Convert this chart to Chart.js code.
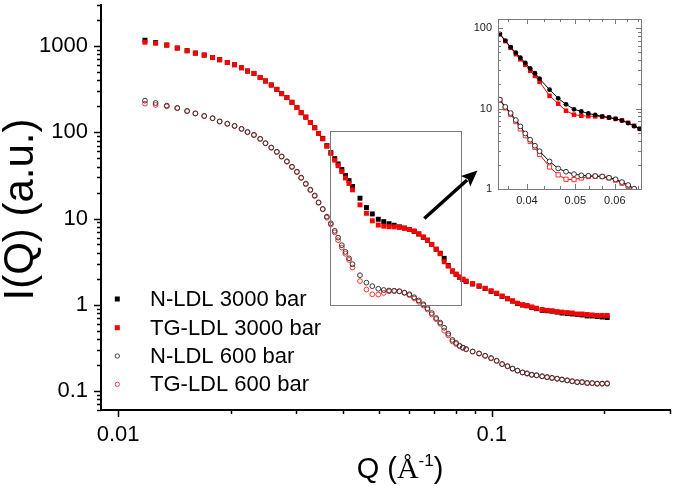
<!DOCTYPE html>
<html><head><meta charset="utf-8">
<script src="https://cdn.jsdelivr.net/npm/chart.js@4.4.1/dist/chart.umd.min.js"></script>
<style>
html,body{margin:0;padding:0;background:#fff;}
#wrap{position:relative;width:675px;height:486px;background:#fff;}
canvas{position:absolute;left:0;top:0;}
</style></head><body>
<div id="wrap"><canvas id="main" width="675" height="486"></canvas><canvas id="inset" width="675" height="486"></canvas></div>
<script>
// ---------- data ----------
const q = [
 0.0118, 0.0126, 0.0135, 0.0144, 0.0153, 0.0161, 0.0170, 0.0179, 0.0187, 0.0196,
 0.0205, 0.0214, 0.0222, 0.0231, 0.0240, 0.0248, 0.0257, 0.0266, 0.0274, 0.0283,
 0.0292, 0.0301, 0.0309, 0.0318, 0.0327, 0.0336, 0.0344, 0.0353, 0.0362, 0.0371,
 0.0380, 0.0388, 0.0397, 0.0406, 0.0415, 0.0424,
 0.0444, 0.0462, 0.0479, 0.0497, 0.0514, 0.0531, 0.0548, 0.0566, 0.0584, 0.0602,
 0.0620, 0.0638, 0.0656, 0.0673, 0.0691, 0.0710, 0.0728, 0.0746, 0.0765, 0.0785,
 0.0803, 0.0820, 0.0837, 0.0854, 0.0889, 0.0925, 0.0960, 0.0996, 0.1031, 0.1066,
 0.1102, 0.1137, 0.1172, 0.1209, 0.1243, 0.1280, 0.1318, 0.1364, 0.1406, 0.1450,
 0.1496, 0.1542, 0.1592, 0.1642, 0.1693, 0.1745, 0.1800, 0.1857, 0.1915, 0.1975,
 0.2037];
const nLdl3000 = [
 1170, 1100, 1030, 950, 885, 830, 787, 738, 695, 646,
 608, 561, 514, 482, 433, 394, 354, 315, 281, 253,
 223, 194, 169, 150, 130, 113, 97, 85, 70, 58,
 49.5, 43, 37, 31.5, 27.5, 23.5,
 17.2, 13.4, 11.3, 9.8, 9.2, 8.7, 8.35, 8.0, 7.75, 7.45,
 7.1, 6.6, 6.05, 5.6, 5.0, 4.4, 3.95, 3.45, 2.85, 2.46,
 2.25, 2.08, 1.96, 1.86, 1.74, 1.64, 1.54, 1.43, 1.35, 1.25,
 1.17, 1.10, 1.03, 0.99, 0.97, 0.93, 0.90, 0.86, 0.85, 0.84,
 0.82, 0.80, 0.79, 0.78, 0.77, 0.76, 0.74, 0.74, 0.73, 0.72,
 0.71];
const tgLdl3000 = [
 1110, 1080, 1027, 948, 883, 830, 787, 738, 695, 646,
 608, 561, 514, 482, 433, 394, 354, 315, 281, 253,
 223, 194, 169, 150, 130, 113, 97, 84, 69, 57,
 47.5, 41, 35, 29.5, 25.5, 21.5,
 14.4, 11.5, 9.4, 8.4, 8.15, 8.05, 8.0, 7.9, 7.7, 7.45,
 7.15, 6.65, 6.1, 5.6, 5.0, 4.4, 3.9, 3.15, 2.8, 2.45,
 2.26, 2.10, 1.98, 1.88, 1.75, 1.65, 1.55, 1.45, 1.36, 1.26,
 1.18, 1.11, 1.04, 1.00, 0.98, 0.94, 0.91, 0.88, 0.86, 0.85,
 0.83, 0.82, 0.81, 0.80, 0.78, 0.78, 0.77, 0.76, 0.75, 0.75,
 0.75];
const nLdl600 = [
 233, 219, 204, 192, 177, 166, 155, 146, 134, 126,
 119, 110, 101, 93.6, 84.1, 74.8, 66.7, 59.5, 52.5, 46.1,
 39.9, 34.9, 29.8, 25.4, 21.6, 18.5, 15.4, 12.9, 10.5, 8.8,
 7.2, 6.0, 4.9, 4.1, 3.45, 2.95,
 2.2, 1.80, 1.64, 1.53, 1.48, 1.46, 1.45, 1.43, 1.38, 1.32,
 1.22, 1.12, 1.01, 0.91, 0.80, 0.70, 0.62, 0.54, 0.46, 0.39,
 0.36, 0.334, 0.318, 0.306, 0.287, 0.272, 0.256, 0.241, 0.224, 0.205,
 0.194, 0.182, 0.172, 0.164, 0.160, 0.154, 0.152, 0.148, 0.144, 0.141,
 0.138, 0.135, 0.132, 0.129, 0.126, 0.126, 0.123, 0.123, 0.121, 0.121,
 0.121];
const tgLdl600 = [
 215, 208, 200, 190, 176, 165, 154, 145, 133, 125,
 118, 109, 100, 92.5, 83.5, 74.5, 66, 59, 52, 45.5,
 39.5, 34.5, 29.5, 25, 21.3, 18.2, 15.2, 12.8, 10.2, 8.5,
 6.9, 5.6, 4.6, 3.9, 3.3, 2.7,
 1.88, 1.50, 1.32, 1.31, 1.37, 1.43, 1.44, 1.43, 1.37, 1.29,
 1.18, 1.08, 0.98, 0.88, 0.77, 0.68, 0.60, 0.50, 0.44, 0.375,
 0.35, 0.33, 0.315, 0.303, 0.285, 0.270, 0.254, 0.238, 0.222, 0.204,
 0.192, 0.180, 0.171, 0.163, 0.158, 0.153, 0.151, 0.147, 0.145, 0.142,
 0.139, 0.136, 0.133, 0.130, 0.127, 0.127, 0.124, 0.123, 0.122, 0.122,
 0.123];
const seriesLabels = ['N-LDL 3000 bar', 'TG-LDL 3000 bar', 'N-LDL 600 bar', 'TG-LDL 600 bar'];

// tick values / labels
const mainXMajor = [0.01, 0.1];
const mainXMajorLabels = ['0.01', '0.1'];
const mainXMinor = [0.02, 0.03, 0.04, 0.05, 0.06, 0.07, 0.08, 0.09, 0.2, 0.3];
const mainYMajor = [0.1, 1, 10, 100, 1000];
const mainYMajorLabels = ['0.1', '1', '10', '100', '1000'];
const mainYMinor = [0.06, 0.07, 0.08, 0.09, 0.2, 0.3, 0.4, 0.5, 0.6, 0.7, 0.8, 0.9,
  2, 3, 4, 5, 6, 7, 8, 9, 20, 30, 40, 50, 60, 70, 80, 90, 200, 300, 400, 500, 600, 700, 800, 900, 2000, 3000];
const insetXMajor = [0.04, 0.05, 0.06];
const insetXMajorLabels = ['0.04', '0.05', '0.06'];
const insetXMinor = [0.03667, 0.04333, 0.04667, 0.05333, 0.05667, 0.06333, 0.06667];
const insetYMajor = [1, 10, 100];
const insetYMajorLabels = ['1', '10', '100'];
const insetYMinor = [2, 3, 4, 5, 6, 7, 8, 9, 20, 30, 40, 50, 60, 70, 80, 90];

// annotation (zoom box and arrow) in data coordinates
const zoomBoxQ = [0.037, 0.083];
const zoomBoxI = [1, 104];
const arrowFrom = [0.066, 10];
const arrowTo = [0.0916, 36];

// ---------- helpers ----------
const pts = arr => q.map((x, i) => ({x: x, y: arr[i]}));
function labelFor(v, majors, labels) {
  const k = majors.findIndex(m => Math.abs(m - v) / m < 1e-6);
  return k >= 0 ? labels[k] : '';
}
function setTicks(majors, minors) {
  return s => { s.ticks = majors.concat(minors).sort((a, b) => a - b).map(v => ({value: v})); };
}
function fitTo(prop, size) {
  return s => { s[prop] = size; s.paddingTop = 0; s.paddingBottom = 0; s.paddingLeft = 0; s.paddingRight = 0; };
}
function seg(ctx, x1, y1, x2, y2) { ctx.beginPath(); ctx.moveTo(x1, y1); ctx.lineTo(x2, y2); ctx.stroke(); }
const al = v => Math.round(v) + 0.5;

Chart.defaults.font.family = "'Liberation Sans', Arial, sans-serif";
Chart.defaults.color = '#000';

// ---------- main chart decorations ----------
const mainDecor = {
  id: 'mainDecor',
  afterDraw(chart) {
    const {ctx, chartArea: a, scales: {x, y}} = chart;
    ctx.save();
    ctx.strokeStyle = '#000'; ctx.lineWidth = 1.5;
    for (const v of mainXMajor) { const p = al(x.getPixelForValue(v)); seg(ctx, p, a.bottom, p, a.bottom + 7); }
    for (const v of mainXMinor) { const p = al(x.getPixelForValue(v)); seg(ctx, p, a.bottom, p, a.bottom + 4); }
    for (const v of mainYMajor) { const p = al(y.getPixelForValue(v)); seg(ctx, a.left, p, a.left - 7, p); }
    for (const v of mainYMinor) { const p = al(y.getPixelForValue(v)); seg(ctx, a.left, p, a.left - 4, p); }

    // zoom box
    const bx1 = x.getPixelForValue(zoomBoxQ[0]), bx2 = x.getPixelForValue(zoomBoxQ[1]);
    const by1 = y.getPixelForValue(zoomBoxI[1]), by2 = y.getPixelForValue(zoomBoxI[0]);
    ctx.strokeStyle = '#7a7a7a'; ctx.lineWidth = 1;
    ctx.strokeRect(al(bx1), al(by1), Math.round(bx2 - bx1), Math.round(by2 - by1));

    // arrow
    const ax1 = x.getPixelForValue(arrowFrom[0]), ay1 = y.getPixelForValue(arrowFrom[1]);
    const ax2 = x.getPixelForValue(arrowTo[0]), ay2 = y.getPixelForValue(arrowTo[1]);
    const ang = Math.atan2(ay2 - ay1, ax2 - ax1);
    const hl = 16, hw = 7;
    const bxh = ax2 - hl * Math.cos(ang), byh = ay2 - hl * Math.sin(ang);
    ctx.strokeStyle = '#000'; ctx.lineWidth = 3.5; ctx.lineCap = 'butt';
    seg(ctx, ax1, ay1, bxh + 2 * Math.cos(ang), byh + 2 * Math.sin(ang));
    ctx.fillStyle = '#000';
    ctx.beginPath();
    ctx.moveTo(ax2, ay2);
    ctx.lineTo(bxh + hw * Math.sin(ang), byh - hw * Math.cos(ang));
    ctx.lineTo(bxh + 3 * Math.cos(ang), byh + 3 * Math.sin(ang));
    ctx.lineTo(bxh - hw * Math.sin(ang), byh + hw * Math.cos(ang));
    ctx.closePath(); ctx.fill();

    // legend
    const rows = [299, 327.7, 356, 384.3];
    ctx.font = "22px 'Liberation Sans', Arial, sans-serif";
    ctx.textAlign = 'left'; ctx.textBaseline = 'middle';
    rows.forEach((ry, i) => {
      const mx = 117.3;
      if (i === 0 || i === 1) {
        ctx.fillStyle = i === 0 ? '#000' : '#ff0000';
        ctx.fillRect(mx - 2.5, ry - 2.5, 5, 5);
      } else {
        ctx.strokeStyle = i === 2 ? '#444' : '#ff4040'; ctx.lineWidth = 1;
        ctx.beginPath(); ctx.arc(mx, ry, 2.2, 0, Math.PI * 2); ctx.stroke();
      }
      ctx.fillStyle = '#000';
      ctx.fillText(seriesLabels[i], 150, ry + 1);
    });

    // y title
    ctx.save();
    ctx.translate(33, (a.top + a.bottom) / 2 + 2);
    ctx.rotate(-Math.PI / 2);
    ctx.font = "42px 'Liberation Sans', Arial, sans-serif";
    ctx.textAlign = 'center'; ctx.textBaseline = 'alphabetic'; ctx.fillStyle = '#000';
    ctx.fillText('I(Q) (a.u.)', 0, 0);
    ctx.restore();

    // x title  Q (Å^-1)
    const fMain = "29px 'Liberation Sans', Arial, sans-serif";
    const fA = "30px 'Liberation Serif', 'Times New Roman', serif";
    const fSup = "17px 'Liberation Sans', Arial, sans-serif";
    const parts = [['Q (', fMain, 0], ['Å', fA, 0], ['-1', fSup, -12], [')', fMain, 0]];
    let tw = 0;
    parts.forEach(p => { ctx.font = p[1]; p.push(ctx.measureText(p[0]).width); tw += p[3]; });
    let cx = 400 - tw / 2;
    ctx.textAlign = 'left'; ctx.textBaseline = 'alphabetic';
    parts.forEach(p => { ctx.font = p[1]; ctx.fillText(p[0], cx, 478 + p[2]); cx += p[3]; });
    ctx.restore();
  }
};

new Chart(document.getElementById('main'), {
  type: 'scatter',
  data: { datasets: [
    {label: seriesLabels[0], data: pts(nLdl3000), pointStyle: 'rect', pointRadius: 3.5,
     backgroundColor: '#000', borderColor: '#000', borderWidth: 0, order: 2},
    {label: seriesLabels[1], data: pts(tgLdl3000), pointStyle: 'rect', pointRadius: 3.5,
     backgroundColor: '#ff0000', borderColor: '#ff0000', borderWidth: 0, order: 1},
    {label: seriesLabels[2], data: pts(nLdl600), pointStyle: 'circle', pointRadius: 2.4,
     backgroundColor: 'rgba(0,0,0,0)', borderColor: '#333', borderWidth: 1, order: 3},
    {label: seriesLabels[3], data: pts(tgLdl600), pointStyle: 'circle', pointRadius: 2.4,
     backgroundColor: 'rgba(0,0,0,0)', borderColor: '#ff3030', borderWidth: 1, order: 4}
  ]},
  options: {
    responsive: false, animation: false, devicePixelRatio: 1,
    layout: {padding: {left: 0, right: 2, top: 3.5, bottom: 0}},
    plugins: {legend: {display: false}, tooltip: {enabled: false}},
    scales: {
      x: {type: 'logarithmic', min: 0.009, max: 0.3,
          afterBuildTicks: setTicks(mainXMajor, mainXMinor),
          afterFit: fitTo('height', 76),
          grid: {display: false, drawTicks: true, tickLength: 7},
          border: {display: true, color: '#000', width: 2},
          ticks: {autoSkip: false, maxRotation: 0, minRotation: 0, padding: 5, color: '#000',
                  font: {size: 22}, callback: v => labelFor(v, mainXMajor, mainXMajorLabels)}},
      y: {type: 'logarithmic', min: 0.06, max: 3000,
          afterBuildTicks: setTicks(mainYMajor, mainYMinor),
          afterFit: fitTo('width', 101),
          grid: {display: false, drawTicks: true, tickLength: 7},
          border: {display: true, color: '#000', width: 2},
          ticks: {autoSkip: false, padding: 6, color: '#000',
                  font: {size: 22}, callback: v => labelFor(v, mainYMajor, mainYMajorLabels)}}
    }
  },
  plugins: [mainDecor]
});

// ---------- inset ----------
const insetDecor = {
  id: 'insetDecor',
  afterDraw(chart) {
    const {ctx, chartArea: a, scales: {x, y}} = chart;
    ctx.save();
    ctx.strokeStyle = '#7a7a7a'; ctx.lineWidth = 1;
    ctx.strokeRect(al(a.left), al(a.top), Math.round(a.right - a.left), Math.round(a.bottom - a.top));
    const draw = (vals, len) => {
      for (const v of vals) {
        const p = al(x.getPixelForValue(v));
        seg(ctx, p, a.bottom, p, a.bottom - len); seg(ctx, p, a.top, p, a.top + len);
      }
    };
    const drawY = (vals, len) => {
      for (const v of vals) {
        const p = al(y.getPixelForValue(v));
        seg(ctx, a.left, p, a.left + len, p); seg(ctx, a.right, p, a.right - len, p);
      }
    };
    draw(insetXMajor, 5); draw(insetXMinor, 3);
    drawY(insetYMajor, 5); drawY(insetYMinor, 3);
    ctx.restore();
  }
};

new Chart(document.getElementById('inset'), {
  type: 'scatter',
  data: { datasets: [
    {data: pts(nLdl3000), showLine: true, borderColor: '#000', borderWidth: 1, tension: 0,
     pointStyle: 'circle', pointRadius: 2.4, pointBackgroundColor: '#000', pointBorderColor: '#000', pointBorderWidth: 0},
    {data: pts(tgLdl3000), showLine: true, borderColor: '#ff0000', borderWidth: 1, tension: 0,
     pointStyle: 'rect', pointRadius: 3.2, pointBackgroundColor: '#ff0000', pointBorderColor: '#ff0000', pointBorderWidth: 0},
    {data: pts(nLdl600), showLine: true, borderColor: '#000', borderWidth: 1, tension: 0,
     pointStyle: 'circle', pointRadius: 2.4, pointBackgroundColor: '#fff', pointBorderColor: '#333', pointBorderWidth: 1},
    {data: pts(tgLdl600), showLine: true, borderColor: '#ff0000', borderWidth: 1, tension: 0,
     pointStyle: 'rect', pointRadius: 3.0, pointBackgroundColor: '#fff', pointBorderColor: '#ff3030', pointBorderWidth: 1}
  ]},
  options: {
    responsive: false, animation: false, devicePixelRatio: 1,
    layout: {padding: {left: 468, right: 34, top: 19, bottom: 279}},
    plugins: {legend: {display: false}, tooltip: {enabled: false}},
    scales: {
      x: {type: 'logarithmic', min: 0.035, max: 0.0677,
          afterBuildTicks: setTicks(insetXMajor, insetXMinor),
          afterFit: fitTo('height', 18),
          grid: {display: false, drawTicks: false},
          border: {display: false},
          ticks: {autoSkip: false, maxRotation: 0, minRotation: 0, padding: 5, color: '#222',
                  font: {size: 11}, callback: v => labelFor(v, insetXMajor, insetXMajorLabels)}},
      y: {type: 'logarithmic', min: 1, max: 130,
          afterBuildTicks: setTicks(insetYMajor, insetYMinor),
          afterFit: fitTo('width', 30),
          grid: {display: false, drawTicks: false},
          border: {display: false},
          ticks: {autoSkip: false, padding: 6, color: '#222',
                  font: {size: 11}, callback: v => labelFor(v, insetYMajor, insetYMajorLabels)}}
    }
  },
  plugins: [insetDecor]
});
</script>
</body></html>
